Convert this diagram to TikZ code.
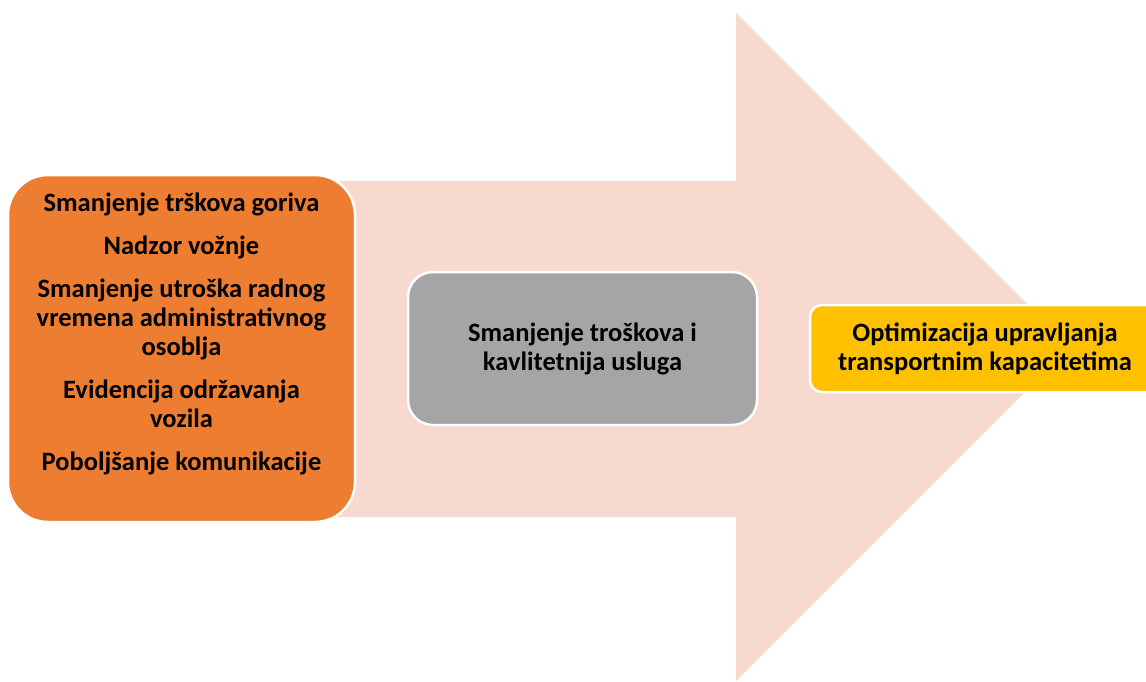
\documentclass[tikz,border=0pt]{standalone}
\usepackage{fontspec}
\setmainfont{Carlito}
\usetikzlibrary{positioning}
\definecolor{arrowpink}{HTML}{F8D9CF}
\definecolor{boxorange}{HTML}{ED7D31}
\definecolor{boxgray}{HTML}{A5A5A5}
\definecolor{boxyellow}{HTML}{FFC000}

\begin{document}
\begin{tikzpicture}
[x=1pt,y=-1pt,
 every node/.style={font=\fontsize{26.5}{29}\selectfont\bfseries,align=center,inner sep=0pt,outer sep=0pt},
 box/.style={rectangle,draw=white,line width=2.5pt},
 orangebox/.style={box,fill=boxorange,minimum width=347pt,minimum height=347pt,rounded corners=40pt},
 graybox/.style={box,fill=boxgray,minimum width=349pt,minimum height=153pt,rounded corners=25pt},
 yellowbox/.style={box,fill=boxyellow,minimum width=350pt,minimum height=87pt,rounded corners=12pt}]
\useasboundingbox (0,0) rectangle (1146,681);
% big arrow behind the boxes
\fill[arrowpink] (327,181) -- (736,181) -- (736,13) -- (1070,347)
                 -- (736,681) -- (736,517) -- (327,517) -- cycle;
\node[orangebox] (gains) at (181.5,348.5) {};
\node (gainstext) [below=18pt of gains.north]
  {Smanjenje trškova goriva\\[14pt]
   Nadzor vožnje\\[14pt]
   Smanjenje utroška radnog\\vremena administrativnog\\osoblja\\[14pt]
   Evidencija održavanja\\vozila\\[14pt]
   Poboljšanje komunikacije};
\node[graybox] (costs) at (582.5,348.5) {Smanjenje troškova i\\kavlitetnija usluga};
\node[yellowbox] (goal) at (985,348.5) {Optimizacija upravljanja\\transportnim kapacitetima};
\end{tikzpicture}
\end{document}
